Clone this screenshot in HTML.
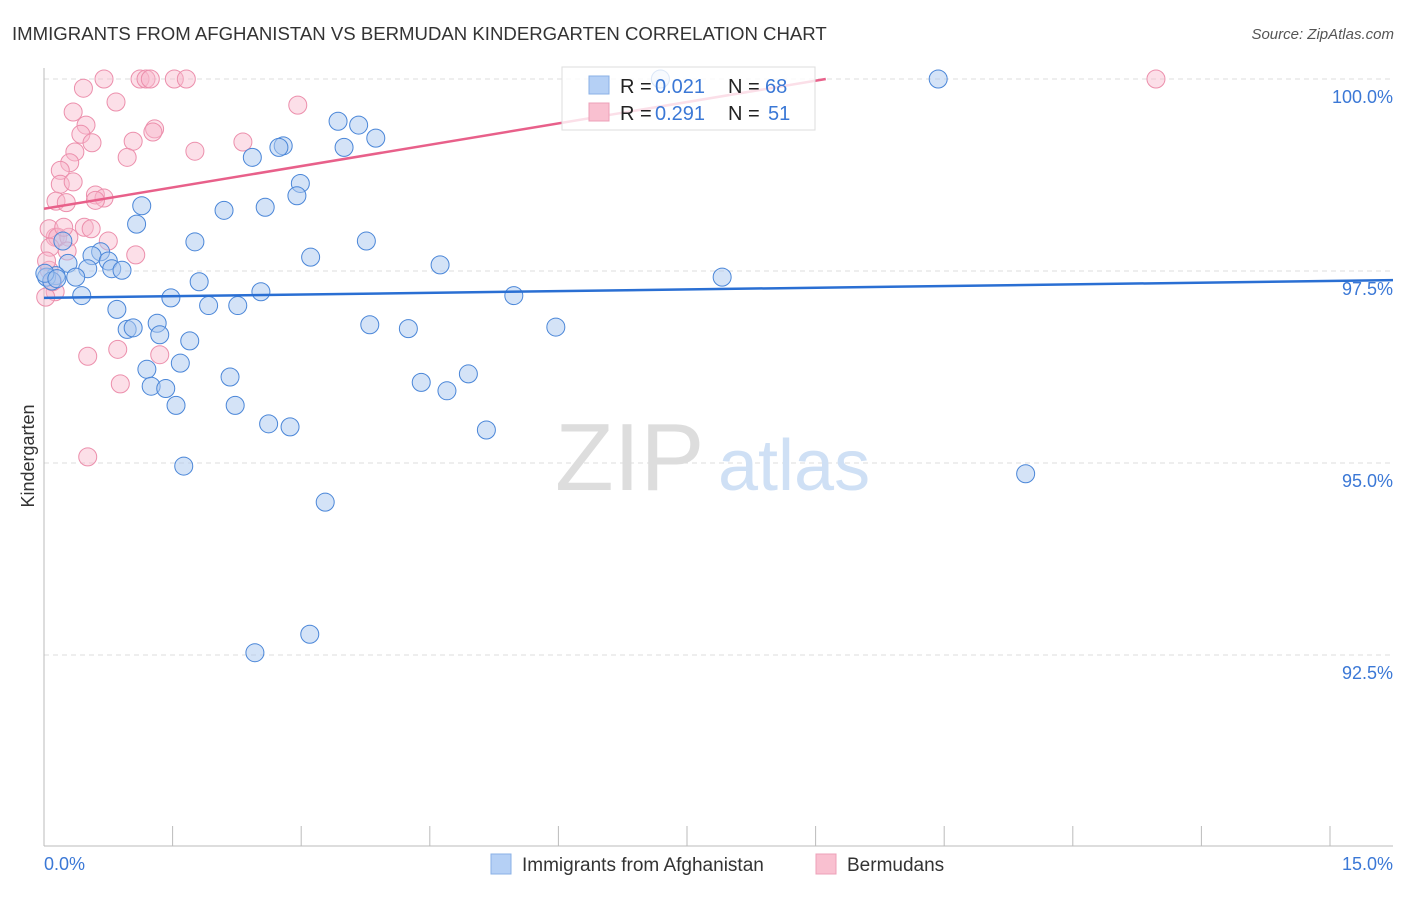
<!DOCTYPE html>
<html><head><meta charset="utf-8"><style>
body{margin:0;background:#fff;font-family:"Liberation Sans",sans-serif}
svg text{font-family:"Liberation Sans",sans-serif}
</style></head><body>
<svg id="chart" width="1406" height="892" xmlns="http://www.w3.org/2000/svg">
<text x="12" y="40" font-size="18.6" fill="#333">IMMIGRANTS FROM AFGHANISTAN VS BERMUDAN KINDERGARTEN CORRELATION CHART</text>
<text x="1394" y="39" font-size="15" fill="#555" text-anchor="end" font-style="italic">Source: ZipAtlas.com</text>
<g id="grid"></g>
<text x="555" y="490" font-size="96" fill="#ddd" font-family="Liberation Serif">ZIP</text>
<text x="718" y="490" font-size="72" fill="#cfe0f5">atlas</text>
<g id="pts"></g>
<g id="lines"></g>
<text x="34" y="456" font-size="18" fill="#333" text-anchor="middle" transform="rotate(-90 34 456)">Kindergarten</text>
<text x="44" y="870" font-size="18" fill="#3b78d6">0.0%</text>
<text x="1393" y="870" font-size="18" fill="#3b78d6" text-anchor="end">15.0%</text>
<g>
<rect x="562" y="67" width="253" height="63" fill="#fff" fill-opacity="0.8" stroke="#ddd"/>
<rect x="589" y="76" width="20" height="18" fill="#b5d0f5" stroke="#8ab0e6"/>
<rect x="589" y="103" width="20" height="18" fill="#f9c0d0" stroke="#eda0b8"/>
<text x="620" y="93" font-size="20" fill="#222">R =</text>
<text x="655" y="93" font-size="20" fill="#3b78d6">0.021</text>
<text x="728" y="93" font-size="20" fill="#222">N =</text>
<text x="765" y="93" font-size="20" fill="#3b78d6">68</text>
<text x="620" y="120" font-size="20" fill="#222">R =</text>
<text x="655" y="120" font-size="20" fill="#3b78d6">0.291</text>
<text x="728" y="120" font-size="20" fill="#222">N =</text>
<text x="768" y="120" font-size="20" fill="#3b78d6">51</text>
</g>
<g>
<rect x="491" y="854" width="20" height="20" fill="#b5d0f5" stroke="#8ab0e6"/>
<text x="522" y="871" font-size="19" fill="#333">Immigrants from Afghanistan</text>
<rect x="816" y="854" width="20" height="20" fill="#f9c0d0" stroke="#eda0b8"/>
<text x="847" y="871" font-size="19" fill="#333">Bermudans</text>
</g>
</svg>
<script>
const yTicks=[100,97.5,95,92.5];
const yTickLabels=["100.0%","97.5%","95.0%","92.5%"];
const xTicks=[0,1.5,3,4.5,6,7.5,9,10.5,12,13.5,15];
const blueX=[10.43,7.19,3.43,3.67,3.87,3.5,2.79,2.74,2.43,2.99,2.95,1.14,2.58,2.1,1.08,3.76,1.76,3.11,0.22,0.66,0.56,0.75,4.62,0.28,0.51,0.79,0.91,7.91,0.14,0.03,0.37,1.81,2.53,0.44,1.48,5.48,1.92,2.26,0.85,3.8,1.32,4.25,5.97,0.97,1.04,1.35,1.7,1.59,1.2,2.17,4.95,4.4,1.25,1.42,4.7,1.54,2.23,2.62,2.87,5.16,1.63,11.45,3.28,3.1,2.46,0.09,0.01,0.15];
const blueY=[100,100,99.45,99.4,99.23,99.11,99.13,99.11,98.98,98.64,98.48,98.35,98.33,98.29,98.11,97.89,97.88,97.68,97.89,97.75,97.7,97.63,97.58,97.6,97.53,97.53,97.51,97.42,97.44,97.42,97.42,97.36,97.23,97.18,97.15,97.18,97.05,97.05,97,96.8,96.82,96.75,96.77,96.74,96.76,96.67,96.59,96.3,96.22,96.12,96.16,96.05,96,95.97,95.94,95.75,95.75,95.51,95.47,95.43,94.96,94.86,94.49,92.77,92.53,97.37,97.47,97.4];
const pinkX=[0.7,1.12,1.19,1.24,1.52,1.66,12.97,0.46,0.84,2.96,0.34,0.49,0.43,1.29,1.27,0.56,1.04,2.32,0.36,1.76,0.97,0.3,0.19,0.19,0.34,0.6,0.14,0.26,0.7,0.6,0.13,0.06,0.16,0.29,0.75,0.47,0.55,1.07,0.23,0.07,0.06,0.13,0.02,0.51,0.86,1.35,0.89,0.51,0.03,0.1,0.27];
const pinkY=[100,100,100,100,100,100,100,99.88,99.7,99.66,99.57,99.4,99.28,99.35,99.31,99.17,99.19,99.18,99.05,99.06,98.98,98.91,98.81,98.63,98.66,98.49,98.41,98.39,98.45,98.42,97.94,98.05,97.94,97.94,97.89,98.07,98.05,97.71,98.07,97.81,97.51,97.23,97.16,96.39,96.48,96.41,96.03,95.08,97.63,97.36,97.76];
const blueLine=[97.15,97.37];
const pinkLine=[98.31,101.09];
const X=v=>44+v/15*1286, Y=v=>79+(100-v)/2.5*192;
const NS="http://www.w3.org/2000/svg";
const mk=(t,a,p)=>{const e=document.createElementNS(NS,t);for(const k in a)e.setAttribute(k,a[k]);p.appendChild(e);return e;};
const grid=document.getElementById('grid');
yTicks.forEach((t,i)=>{
 const l=mk('line',{x1:44,x2:1393,y1:Y(t),y2:Y(t),stroke:'#ddd','stroke-dasharray':'5,4'},grid);
 
 
 const tx=mk('text',{x:1393,y:Y(t)+24,'font-size':18,fill:'#3b78d6','text-anchor':'end'},grid);
 tx.textContent=yTickLabels[i];
 
 
});
const ax=mk('line',{x1:44,x2:44,y1:68,y2:846,stroke:'#bbb'},grid);


const bx=mk('line',{x1:44,x2:1393,y1:846,y2:846,stroke:'#bbb'},grid);


xTicks.forEach(t=>{
 const l=mk('line',{x1:X(t),x2:X(t),y1:826,y2:846,stroke:'#bbb'},grid);
 
 
});
const pts=document.getElementById('pts');
pinkX.forEach((v,i)=>{
 const c=mk('circle',{cx:X(v),cy:Y(pinkY[i]),r:9,fill:'#f9b8cb','fill-opacity':0.45,stroke:'#ec8fac','stroke-width':1},pts);
 
 
});
blueX.forEach((v,i)=>{
 const c=mk('circle',{cx:X(v),cy:Y(blueY[i]),r:9,fill:'#a9c8f0','fill-opacity':0.5,stroke:'#4a86d8','stroke-width':1},pts);
 
 
});
const lines=document.getElementById('lines');
const b=mk('line',{x1:X(0),y1:Y(blueLine[0]),x2:1393,y2:Y(blueLine[0]+(blueLine[1]-blueLine[0])*(1393-44)/1286),stroke:'#2a6fd3','stroke-width':2.5},lines);


const pEndX=44+(100-pinkLine[0])/(pinkLine[1]-pinkLine[0])*1286;
const p=mk('line',{x1:X(0),y1:Y(pinkLine[0]),x2:pEndX,y2:Y(100),stroke:'#e8608a','stroke-width':2.5},lines);


</script>
</body></html>
